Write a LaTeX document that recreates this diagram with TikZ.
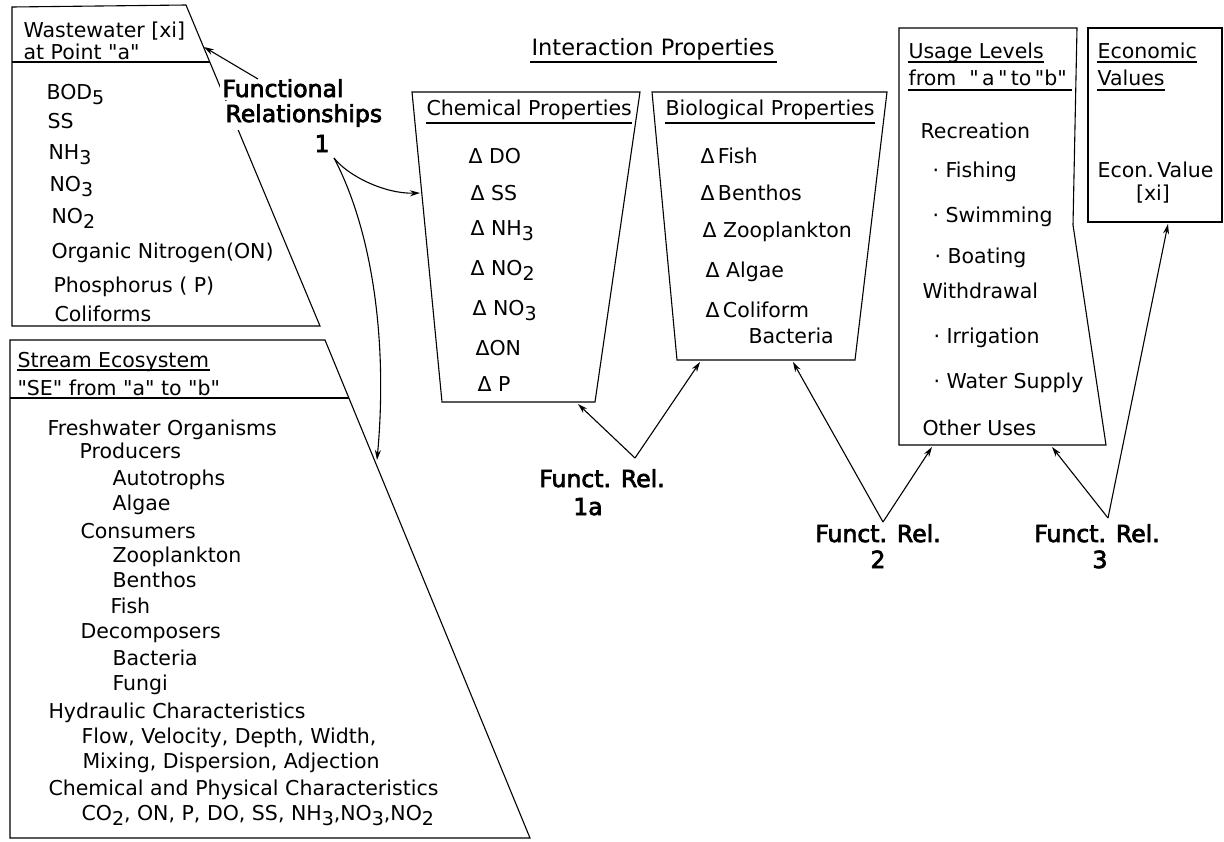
\documentclass[tikz,border=0pt]{standalone}
\usepackage{fontspec}
\newfontfamily\dv{DejaVu Sans}
\newfontfamily\lblfont[FakeBold=3]{DejaVu Sans}
\usetikzlibrary{arrows.meta}
\newcommand\lowsub[1]{\raisebox{-5pt}{\fontsize{19}{19}\selectfont #1}}
\begin{document}
\begin{tikzpicture}[x=1pt,y=-1pt,line width=1.1pt,line join=miter,
  txt/.style={anchor=base west,inner sep=0pt,font=\dv\fontsize{20.5}{24}\selectfont},
  ctxt/.style={anchor=base,inner sep=0pt,font=\dv\fontsize{20.5}{24}\selectfont},
  lbl/.style={anchor=base,inner sep=1pt,font=\lblfont\fontsize{23.5}{26}\selectfont},
  arr/.style={-{Stealth[length=10pt,width=6pt]}},
  uline/.style={line width=1.1pt}]
\useasboundingbox (0,0) rectangle (1224,841);
\fill[white] (0,0) rectangle (1224,841);

% ---------- Wastewater box
\draw (12,326) -- (12,7) -- (186,5) -- (320,326) -- cycle;
\draw (12,62) -- (210,62);
\node[txt] (ww1) at (23,37) {Wastewater [xi]};
\node[txt] (ww2) at (23,59) {at Point "a"};
\node[txt] (w1) at (46,99) {BOD\lowsub{5}};
\node[txt] (w2) at (47,128) {SS};
\node[txt] (w3) at (48,159) {NH\lowsub{3}};
\node[txt] (w4) at (49,191) {NO\lowsub{3}};
\node[txt] (w5) at (51,223) {NO\lowsub{2}};
\node[txt] (w6) at (51,258) {Organic Nitrogen(ON)};
\node[txt] (w7) at (53,292) {Phosphorus ( P)};
\node[txt] (w8) at (54,321) {Coliforms};

% ---------- Functional relationships 1
\node[lbl,anchor=base west,fill=white,inner sep=3pt] (fra) at (219,97) {Functional};
\node[lbl,anchor=base west,fill=white,inner sep=3pt] (frb) at (222,122) {Relationships};
\node[lbl] (frc) at (322,152) {1};

% ---------- Stream ecosystem box
\draw (10,838) -- (10,340) -- (325,340) -- (530,838) -- cycle;
\draw (10,398) -- (349,398);
\node[txt] (se1) at (17,367) {Stream Ecosystem};
\draw[uline] ([yshift=-3pt]se1.base west) -- ([yshift=-3pt]se1.base east);
\node[txt] (se2) at (17,395) {"SE" from "a" to "b"};
\node[txt] (s1) at (47,435) {Freshwater Organisms};
\node[txt] (s2) at (79,458) {Producers};
\node[txt] (s3) at (112,485) {Autotrophs};
\node[txt] (s4) at (112,510) {Algae};
\node[txt] (s5) at (80,538) {Consumers};
\node[txt] (s6) at (112,562) {Zooplankton};
\node[txt] (s7) at (112,587) {Benthos};
\node[txt] (s8) at (110,613) {Fish};
\node[txt] (s9) at (80,638) {Decomposers};
\node[txt] (s10) at (112,665) {Bacteria};
\node[txt] (s11) at (112,690) {Fungi};
\node[txt] (s12) at (48,718) {Hydraulic Characteristics};
\node[txt] (s13) at (81,743) {Flow, Velocity, Depth, Width,};
\node[txt] (s14) at (82,768) {Mixing, Dispersion, Adjection};
\node[txt] (s15) at (48,795) {Chemical and Physical Characteristics};
\node[txt] (s16) at (81,820) {CO\lowsub{2}, ON, P, DO, SS, NH\lowsub{3},NO\lowsub{3},NO\lowsub{2}};

% ---------- Interaction properties
\node[anchor=base,inner sep=0pt,font=\dv\fontsize{22.5}{26}\selectfont] (ip) at (653,55) {Interaction Properties};
\draw[uline] (530,62) -- (777,62);

% Chemical properties
\draw (412,92) -- (640,92) -- (595,402) -- (442,402) -- cycle;
\node[txt] (chh) at (426,115) {Chemical Properties};
\draw[uline] ([yshift=-8pt]chh.base west) -- ([yshift=-8pt]chh.base east);
\node[txt] (c1) at (468,163) {Δ DO};
\node[txt] (c2) at (470,200) {Δ SS};
\node[txt] (c3) at (470,235) {Δ NH\lowsub{3}};
\node[txt] (c4) at (470,275) {Δ NO\lowsub{2}};
\node[txt] (c5) at (472,315) {Δ NO\lowsub{3}};
\node[txt] (c6) at (475,355) {ΔON};
\node[txt] (c7) at (477,391) {Δ P};

% Biological properties
\draw (652,92) -- (887,92) -- (855,360) -- (677,360) -- cycle;
\node[txt] (bih) at (665,115) {Biological Properties};
\draw[uline] ([yshift=-8pt]bih.base west) -- ([yshift=-8pt]bih.base east);
\node[txt] (b1) at (700,163) {Δ\,Fish};
\node[txt] (b2) at (700,200) {Δ\,Benthos};
\node[txt] (b3) at (702,237) {Δ Zooplankton};
\node[txt] (b4) at (705,277) {Δ Algae};
\node[txt] (b5) at (705,317) {Δ\,Coliform};
\node[txt] (b6) at (748,343) {Bacteria};

% ---------- Usage levels
\draw (899,445) -- (899,28) -- (1077,28) -- (1073,225) -- (1106,445) -- cycle;
\node[txt] (uh1) at (908,58) {Usage Levels};
\draw[uline] ([yshift=-4pt]uh1.base west) -- ([yshift=-4pt]uh1.base east);
\node[txt] (uh2) at (908,85) {from \ "\,a\,"\,to\,"b"};
\draw[uline] ([yshift=-5pt]uh2.base west) -- (1072,90);
\node[txt] (u1) at (920,138) {Recreation};
\node[txt] (u2) at (932,177) {· Fishing};
\node[txt] (u3) at (932,222) {· Swimming};
\node[txt] (u4) at (934,263) {· Boating};
\node[txt] (u5) at (922,298) {Withdrawal};
\node[txt] (u6) at (933,343) {· Irrigation};
\node[txt] (u7) at (933,388) {· Water Supply};
\node[txt] (u8) at (922,435) {Other Uses};

% ---------- Economic values
\draw (1088,28) rectangle (1222,222);
\node[txt] (eh1) at (1097,58) {Economic};
\draw[uline] ([yshift=-4pt]eh1.base west) -- ([yshift=-4pt]eh1.base east);
\node[txt] (eh2) at (1097,85) {Values};
\draw[uline] ([yshift=-5pt]eh2.base west) -- ([yshift=-5pt]eh2.base east);
\node[txt] (e1) at (1097,177) {Econ.\,Value};
\node[ctxt] (e2) at (1153,200) {[xi]};

% ---------- Functional relationship labels
\node[lbl] (f1a) at (602,487) {Funct. Rel.};
\node[lbl] (f1b) at (588,515) {1a};
\node[lbl] (f2a) at (878,542) {Funct. Rel.};
\node[lbl] (f2b) at (878,568) {2};
\node[lbl] (f3a) at (1097,542) {Funct. Rel.};
\node[lbl] (f3b) at (1100,568) {3};

% ---------- connector points
\coordinate (frtail) at (258,79);
\coordinate (wwin) at (204,47);
\coordinate (o1) at (334,158);
\coordinate (chin) at (420,193);
\coordinate (sein) at (377,460);
\coordinate (a1) at (635,458);
\coordinate (a2) at (883,522);
\coordinate (a3) at (1108,518);
\coordinate (t1c) at (578,404);
\coordinate (t1b) at (700,362);
\coordinate (t2b) at (793,362);
\coordinate (t2u) at (932,447);
\coordinate (t3u) at (1052,447);
\coordinate (t3e) at (1168,224);

% ---------- connectors
\draw[arr] (frtail) -- (wwin);
\draw[arr] (o1) .. controls (348,176) and (385,194) .. (chin);
\draw[arr] (o1) .. controls (372,230) and (388,340) .. (sein);
\draw[arr] (a1) -- (t1c);
\draw[arr] (a1) -- (t1b);
\draw[arr] (a2) -- (t2b);
\draw[arr] (a2) -- (t2u);
\draw[arr] (a3) -- (t3u);
\draw[arr] (a3) -- (t3e);
\end{tikzpicture}
\end{document}
